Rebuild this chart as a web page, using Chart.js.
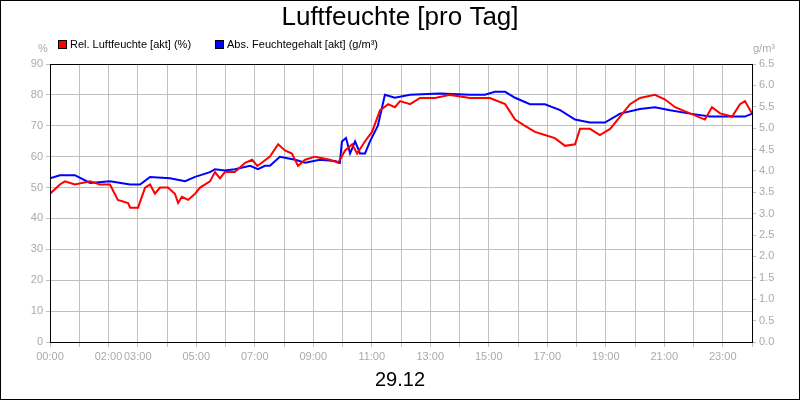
<!DOCTYPE html>
<html><head><meta charset="utf-8">
<script src="https://cdn.jsdelivr.net/npm/chart.js@4"></script>
<style>html,body{margin:0;padding:0;background:#fff}#w{width:800px;height:400px;position:relative;box-sizing:border-box}canvas{display:block}</style>
</head><body><div id="w"><canvas id="c" width="800" height="400"></canvas></div>
<script>
const title = "Luftfeuchte [pro Tag]";
const dateLabel = "29.12";
const relName = "Rel. Luftfeuchte [akt] (%)";
const absName = "Abs. Feuchtegehalt [akt] (g/m³)";
const xTickHours = [0,2,3,5,7,9,11,13,15,17,19,21,23];
const relTimes = [0,0.34,0.51,0.85,1.37,1.71,2.05,2.32,2.67,2.74,3.01,3.25,3.42,3.59,3.76,4.03,4.27,4.38,4.51,4.72,4.96,5.13,5.47,5.64,5.81,5.98,6.32,6.67,6.91,7.09,7.52,7.80,8.03,8.27,8.48,8.72,9.06,9.57,9.85,10.09,10.33,10.50,10.77,11.01,11.28,11.56,11.79,11.97,12.31,12.65,13.16,13.68,14.36,15.04,15.56,15.90,16.24,16.58,16.92,17.26,17.61,17.95,18.12,18.46,18.80,19.15,19.49,19.83,20.17,20.68,21.03,21.37,21.88,22.39,22.63,22.91,23.32,23.59,23.76,24];
const relValues = [48,51,52,51,52,51,51,46,45,43.5,43.5,50,51,48,50,50,48,45,47,46,48,50,52,55,53,55,55,58,59,57,60,64,62,61,57,59,60,59,58,62,64,61,65,68,75,77,76,78,77,79,79,80,79,79,77,72,70,68,67,66,63.5,64,69,69,67,69,73,77,79,80,78.5,76,74,72,76,74,73,77,78,74];
const absTimes = [0,0.34,0.85,1.37,2.05,2.74,3.08,3.42,4.10,4.62,4.96,5.47,5.64,5.98,6.32,6.84,7.11,7.35,7.52,7.86,8.38,8.72,9.23,9.74,9.91,9.98,10.12,10.26,10.43,10.60,10.77,10.94,11.21,11.45,11.79,12.31,13.33,14.36,14.87,15.21,15.56,15.90,16.41,16.92,17.44,17.95,18.46,18.97,19.49,20.17,20.68,21.20,21.88,22.56,23.25,23.76,24];
const absValues = [3.83,3.90,3.90,3.72,3.76,3.68,3.68,3.86,3.83,3.76,3.86,3.97,4.04,4.01,4.04,4.12,4.04,4.12,4.12,4.33,4.26,4.19,4.26,4.23,4.19,4.69,4.77,4.41,4.69,4.41,4.41,4.69,5.06,5.78,5.71,5.78,5.81,5.78,5.78,5.85,5.85,5.71,5.56,5.56,5.42,5.20,5.13,5.13,5.34,5.45,5.49,5.42,5.34,5.27,5.27,5.27,5.34];

const pad2 = n => String(n).padStart(2,'0');
const F = '"Liberation Sans", Arial, sans-serif';
const grey = '#aaaaaa';

const deco = {
  id:'deco',
  beforeDraw(ch){const c=ch.ctx;c.save();c.fillStyle='#fff';c.fillRect(0,0,800,400);c.restore();},
  afterDraw(ch){
    const c=ch.ctx, a=ch.chartArea;
    c.save();
    c.strokeStyle='#000';c.lineWidth=1;c.strokeRect(0.5,0.5,799,399);
    c.strokeRect(Math.round(a.left)+0.5,Math.round(a.top)+0.5,Math.round(a.right-a.left),Math.round(a.bottom-a.top));
    c.fillStyle='#000';c.font='26px '+F;c.textAlign='center';c.textBaseline='middle';
    c.fillText(title,400,18);
    c.font='20px '+F;c.fillText(dateLabel,400,380);
    c.font='11px '+F;c.textAlign='left';
    c.fillStyle='#f00';c.fillRect(58,40,9,9);c.strokeRect(58.5,40.5,8,8);
    c.fillStyle='#000';c.fillText(relName,70,45);
    c.fillStyle='#00f';c.fillRect(215,40,9,9);c.strokeRect(215.5,40.5,8,8);
    c.fillStyle='#000';c.fillText(absName,227,45);
    c.fillStyle=grey;c.textAlign='center';
    c.fillText('%',43,49);c.fillText('g/m³',764,49);
    c.restore();
  }
};

new Chart(document.getElementById('c'),{
  type:'line',
  data:{datasets:[
    {label:relName,data:relTimes.map((t,i)=>({x:t,y:relValues[i]})),borderColor:'#ff0000',borderWidth:2,pointRadius:0,tension:0,yAxisID:'y'},
    {label:absName,data:absTimes.map((t,i)=>({x:t,y:absValues[i]})),borderColor:'#0000ff',borderWidth:2,pointRadius:0,tension:0,yAxisID:'y2'}
  ]},
  options:{
    responsive:false,animation:false,devicePixelRatio:1,
    layout:{padding:{top:64,left:0,right:0,bottom:0}},
    plugins:{legend:{display:false},tooltip:{enabled:false}},
    scales:{
      x:{type:'linear',min:0,max:24,
        ticks:{stepSize:1,autoSkip:false,maxRotation:0,color:grey,font:{size:11,family:F},
          callback:v=>xTickHours.includes(v)?pad2(v)+':00':''},
        grid:{color:'#c0c0c0',tickLength:5,tickColor:'#c0c0c0'},border:{color:'#000'},
        afterFit:s=>{s.height=58;}},
      y:{position:'left',min:0,max:90,
        ticks:{stepSize:10,color:grey,font:{size:11,family:F},padding:3},
        grid:{color:'#c0c0c0',tickLength:4,tickColor:'#c0c0c0'},border:{color:'#000'},
        afterFit:s=>{s.width=50;}},
      y2:{position:'right',min:0,max:6.5,
        ticks:{stepSize:0.5,color:grey,font:{size:11,family:F},padding:3,callback:v=>v.toFixed(1)},
        grid:{drawOnChartArea:false,tickLength:4,tickColor:'#c0c0c0'},border:{color:'#000'},
        afterFit:s=>{s.width=48;}}
    }
  },
  plugins:[deco]
});
</script></body></html>
